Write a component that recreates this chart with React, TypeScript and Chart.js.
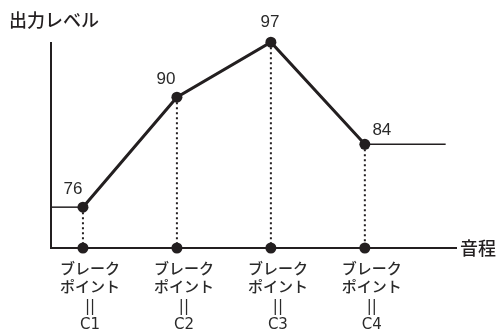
import React, { useEffect, useRef } from 'react';
import { Chart, registerables } from 'chart.js';

Chart.register(...registerables);

// ---- data ----
const categories = ['C1', 'C2', 'C3', 'C4'];
const positions = [1, 2, 3, 4];
const levels = [76, 90, 97, 84];
const tickPrefix = ['ブレーク', 'ポイント', '||'];
const yAxisLabel = '出力レベル';
const xAxisLabel = '音程';

// ---- scale bounds ----
const X_MIN = 0.66;
const X_MAX = 4.97;
const X_EXT_END = 4.86;
const Y_MIN = 70.8;
const Y_MAX = 96.9;

// ---- style ----
const INK = '#231f20';
const TEXT = '#2a2a2a';
const JP_FONT = '"Noto Sans CJK JP", "Noto Sans", sans-serif';
const TICK_FONT = '"DejaVu Sans", "Noto Sans CJK JP", sans-serif';
const NUM_FONT = '"Liberation Sans", Arial, sans-serif';
const labelDx = [-10, -11, -1, 17];
const labelDy = [-18, -18, -20, -14];

export default function App() {
  const canvasRef = useRef<HTMLCanvasElement | null>(null);

  useEffect(() => {
    const canvas = canvasRef.current;
    if (!canvas) return;

    const mainData = positions.map((x, i) => ({ x, y: levels[i] }));
    const leftExt = [
      { x: X_MIN, y: levels[0] },
      { x: positions[0], y: levels[0] },
    ];
    const last = positions.length - 1;
    const rightExt = [
      { x: positions[last], y: levels[last] },
      { x: X_EXT_END, y: levels[last] },
    ];
    const dotted = positions.map((x, i) => ({
      data: [
        { x, y: levels[i] },
        { x, y: Y_MIN },
      ],
      borderColor: INK,
      borderWidth: 2,
      borderDash: [2, 3],
      pointRadius: 0,
      clip: false as any,
    }));
    const axisDots = positions.map((x) => ({ x, y: Y_MIN }));

    const textPlugin = {
      id: 'textPlugin',
      afterDraw(chart: any) {
        const ctx = chart.ctx;
        ctx.save();
        ctx.textBaseline = 'middle';
        ctx.fillStyle = INK;
        ctx.font = `500 18px ${JP_FONT}`;
        ctx.textAlign = 'left';
        ctx.fillText(yAxisLabel, 9, 20);
        ctx.fillText(xAxisLabel, 460, chart.chartArea.bottom);
        const meta = chart.getDatasetMeta(0);
        ctx.font = `17px ${NUM_FONT}`;
        ctx.fillStyle = TEXT;
        ctx.textAlign = 'center';
        meta.data.forEach((pt: any, i: number) => {
          ctx.fillText(String(levels[i]), pt.x + labelDx[i], pt.y + labelDy[i]);
        });
        ctx.restore();
      },
    };

    const chart = new Chart(canvas, {
      type: 'line',
      data: {
        datasets: [
          {
            data: mainData,
            borderColor: INK,
            borderWidth: 3,
            pointRadius: 5.5,
            pointBackgroundColor: INK,
            pointBorderWidth: 0,
            clip: false as any,
          },
          {
            data: axisDots,
            showLine: false,
            pointRadius: 5.5,
            pointBackgroundColor: INK,
            pointBorderWidth: 0,
            borderColor: INK,
            clip: false as any,
          },
          {
            data: leftExt,
            borderColor: INK,
            borderWidth: 1.5,
            pointRadius: 0,
            clip: false as any,
          },
          {
            data: rightExt,
            borderColor: INK,
            borderWidth: 1.5,
            pointRadius: 0,
            clip: false as any,
          },
          ...dotted,
        ] as any,
      },
      options: {
        animation: false,
        responsive: true,
        maintainAspectRatio: false,
        layout: { padding: { left: 51, right: 41, top: 43, bottom: 0 } },
        plugins: {
          legend: { display: false },
          tooltip: { enabled: false },
          title: { display: false },
        },
        scales: {
          x: {
            type: 'linear',
            min: X_MIN,
            max: X_MAX,
            grid: { display: false },
            border: { display: true, color: INK, width: 2 },
            afterBuildTicks: (scale: any) => {
              scale.ticks = positions.map((v) => ({ value: v }));
            },
            afterFit: (scale: any) => {
              scale.height = 85;
            },
            ticks: {
              autoSkip: false,
              maxRotation: 0,
              padding: 5,
              labelOffset: 7,
              color: TEXT,
              font: { family: TICK_FONT, size: 15, weight: '500', lineHeight: 1.22 },
              callback: (_v: any, index: number) => [...tickPrefix, categories[index]],
            },
          },
          y: {
            type: 'linear',
            min: Y_MIN,
            max: Y_MAX,
            grid: { display: false },
            border: { display: true, color: INK, width: 2 },
            ticks: { display: false },
            afterFit: (scale: any) => {
              scale.width = 0;
            },
          },
        },
      } as any,
      plugins: [textPlugin],
    });

    return () => chart.destroy();
  }, []);

  return (
    <div style={{ position: 'absolute', left: 0, top: 0, width: 497, height: 333, background: '#fff' }}>
      <canvas ref={canvasRef} />
    </div>
  );
}
